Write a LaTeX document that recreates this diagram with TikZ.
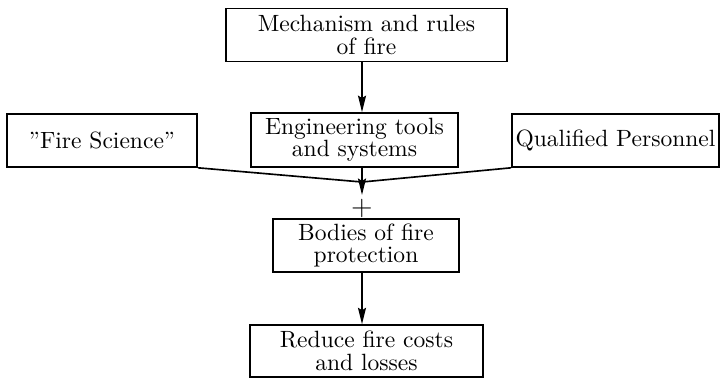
\documentclass[tikz,border=0pt]{standalone}
\usepackage{tikz}
\usetikzlibrary{arrows.meta}
\tikzstyle{block} = [rectangle, draw, line width=.7pt, minimum height=22.5pt, inner sep=1.5pt, align=center, font=\fontsize{10}{9.5}\selectfont]
\tikzstyle{arrow} = [line width=.7pt, -{Stealth[length=7pt, width=3.4pt, inset=1pt]}]

\begin{document}
\begin{tikzpicture}[x=0.425pt, y=-0.425pt]
\useasboundingbox (0,0) rectangle (721,377);
\node[block, minimum width=119.4pt] (mechanism) at (366.5,35) {Mechanism and rules\\of fire};
\node[block, minimum width=88pt, minimum height=23pt] (engineering) at (354.5,140) {Engineering tools\\and systems};
\node[block, minimum width=80.75pt] (science) at (102,140.5) {''Fire Science''};
\node[block, minimum width=88pt] (personnel) at (615.5,140.5) {Qualified Personnel};
\coordinate (hub) at (362,182);
\coordinate (tip) at (362,195);
\node[font=\fontsize{12}{12}\selectfont, inner sep=0pt] (plus) at (362,208) {+};
\node[block, minimum width=79pt] (protection) at (366,245.5) {Bodies of fire\\protection};
\node[block, minimum width=99pt, minimum height=22pt] (losses) at (366.5,351) {Reduce fire costs\\and losses};

\draw[arrow] (hub |- mechanism.south) -- (hub |- engineering.north);
\draw[line width=.7pt] (science.south east) -- (hub) -- (personnel.south west);
\draw[arrow] (hub |- engineering.south) -- (tip);
\draw[arrow] (hub |- protection.south) -- (hub |- losses.north);
\end{tikzpicture}
\end{document}
